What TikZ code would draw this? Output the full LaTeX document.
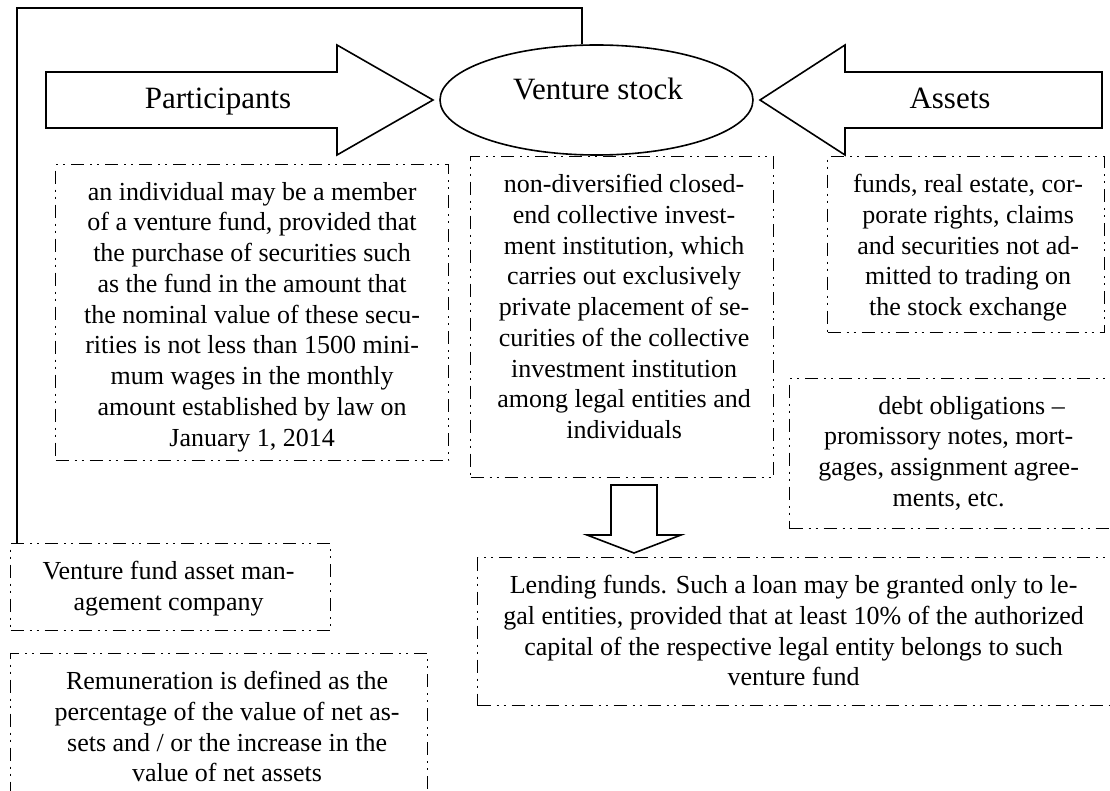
\documentclass[tikz,border=0pt]{standalone}
\usepackage{fontspec}
\setmainfont{Liberation Serif}
\usetikzlibrary{shapes.geometric,calc}
\tikzset{
  ddbox/.style={draw, line width=1.2pt, rectangle, inner sep=0pt, anchor=north west,
    dash pattern=on 13pt off 6pt on 2pt off 5pt on 2pt off 6pt},
  solidline/.style={draw, line width=1.6pt, line join=miter},
  body/.style={font=\fontsize{26}{30.75}\selectfont, align=center, inner sep=0pt, anchor=north},
  lab/.style={font=\fontsize{31}{36}\selectfont, inner sep=0pt, anchor=base},
}
\begin{document}
\begin{tikzpicture}[x=1pt,y=-1pt]
\useasboundingbox (0,0) rectangle (1110,791);
\clip (0,0) rectangle (1110,791);

% boxes
\node[ddbox, minimum width=393pt, minimum height=296pt] (b1) at (55,164) {};
\node[ddbox, minimum width=303pt, minimum height=321pt] (b2) at (470,156) {};
\node[ddbox, minimum width=277pt, minimum height=176pt] (b3) at (827,156) {};
\node[ddbox, minimum width=330pt, minimum height=150pt] (b4) at (789,378) {};
\node[ddbox, minimum width=640pt, minimum height=148pt] (lend) at (477,557) {};
\node[ddbox, minimum width=320pt, minimum height=87pt] (b6) at (10,543) {};
\node[ddbox, minimum width=417pt, minimum height=160pt] (b7) at (10,653) {};

% texts
\node[body] (t1) at ($(b1.north)+(0,18)$) {an individual may be a member\\of a venture fund, provided that\\the purchase of securities such\\as the fund in the amount that\\the nominal value of these secu-\\rities is not less than 1500 mini-\\mum wages in the monthly\\amount established by law on\\January 1, 2014};
\node[body] (t2) at ($(b2.north)+(2,18)$) {non-diversified closed-\\end collective invest-\\ment institution, which\\carries out exclusively\\private placement of se-\\curities of the collective\\investment institution\\among legal entities and\\individuals};
\node[body] (t3) at ($(b3.north)+(2,18)$) {funds, real estate, cor-\\porate rights, claims\\and securities not ad-\\mitted to trading on\\the stock exchange};
\node[body] (t4) at ($(b4.north)+(-6,18)$) {\hspace*{46pt}debt obligations –\\promissory notes, mort-\\gages, assignment agree-\\ments, etc.};
\node[body] (t5) at ($(lend.north)+(-4,18)$) {Lending funds. Such a loan may be granted only to le-\\gal entities, provided that at least 10\% of the authorized\\capital of the respective legal entity belongs to such\\venture fund};
\node[body] (t6) at ($(b6.north)+(-2,18)$) {Venture fund asset man-\\agement company};
\node[body] (t7) at ($(b7.north)+(8,18)$) {Remuneration is defined as the\\percentage of the value of net as-\\sets and / or the increase in the\\value of net assets};

% ellipse
\node[draw, line width=1.6pt, ellipse, minimum width=313pt, minimum height=110pt, inner sep=0pt] (ell) at (596.5,100) {};
\node[lab] (vs) at (598,100) {Venture stock};

% block arrows
\draw[solidline] (46,72) -- (337,72) -- (337,45) -- (433,100) -- (337,155) -- (337,128) -- (46,128) -- cycle;
\node[lab] (part) at (218,109) {Participants};
\draw[solidline] (1102,72) -- (845,72) -- (845,45) -- (760,100) -- (845,155) -- (845,128) -- (1102,128) -- cycle;
\node[lab] (ass) at (950,109) {Assets};
\draw[solidline] (611,485) -- (657,485) -- (657,535) -- (681,535) -- (634,553) -- (587,535) -- (611,535) -- cycle;

% feedback line
\coordinate (c1) at (17,8);
\coordinate (c2) at (582,8);
\draw[line width=1.6pt] (c1 |- b6.north) -- (c1) -- (c2) -- (c2 |- ell.north);
\end{tikzpicture}
\end{document}
